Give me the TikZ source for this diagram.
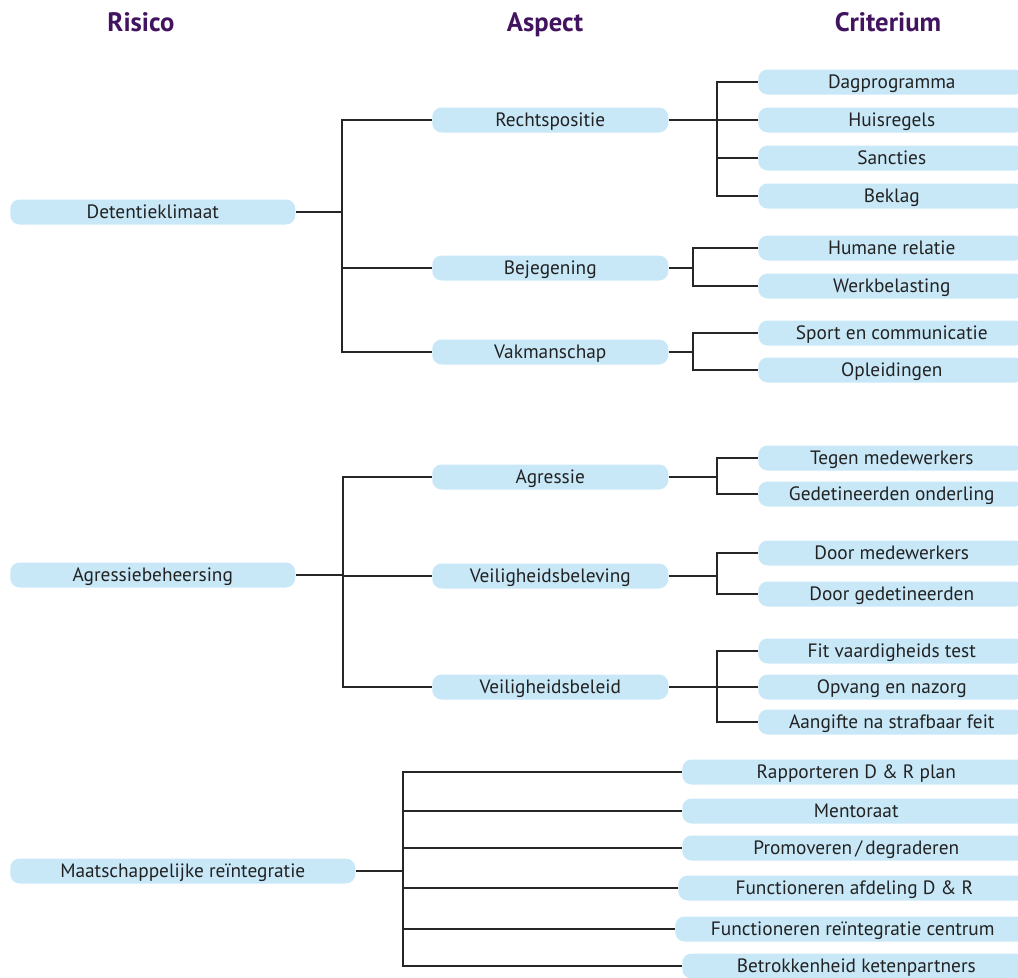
\documentclass[tikz,border=0pt]{standalone}
\usepackage{fontspec}
\setmainfont{PT Sans}
\usetikzlibrary{calc}
\definecolor{paars}{HTML}{42145F}
\definecolor{lichtblauw}{HTML}{C8E8F8}
\definecolor{tekst}{HTML}{222222}
\tikzset{
	link/.style={line width=1pt, draw=black!85},
	hdr/.style={
		font=\fontsize{20}{24}\selectfont\bfseries,
		text=paars,
		text height=14pt,
		text depth=0pt,
	},
	box/.style={
		fill=lichtblauw,
		draw=none,
		rounded corners=7pt,
		anchor=west,
		minimum height=18.75pt,
		inner sep=0pt,
		text height=10.2pt,
		text depth=0pt,
		text=tekst,
		font=\fontsize{14.5}{16}\selectfont,
	},
	risk/.style={box, minimum width=213.75pt},
	maat/.style={box, minimum width=258.75pt},
	asp/.style={box, minimum width=177pt},
	crit/.style={box, minimum width=200.25pt},
	reint/.style={box, minimum width=261pt},
}

\begin{document}
\begin{tikzpicture}[x=0.75pt,y=-0.75pt]
		\clip (0,0) rectangle (1018,978);

		\node[hdr] (hrisico) at (141,22) {Risico};
		\node[hdr] (haspect) at (545,22) {Aspect};
		\node[hdr] (hcrit) at (888,22) {Criterium};

		% Detentieklimaat
		\node[risk] (detentie) at (10,212) {Detentieklimaat};
		\node[asp] (rechts) at (432,120) {Rechtspositie};
		\node[asp] (bejeg) at (432,268) {Bejegening};
		\node[asp] (vakman) at (432,352) {Vakmanschap};
		\node[crit] (dagprog) at (758,82) {Dagprogramma};
		\node[crit] (huisreg) at (758,120) {Huisregels};
		\node[crit] (sanct) at (758,158) {Sancties};
		\node[crit] (beklag) at (758,196) {Beklag};
		\node[crit] (humaan) at (758,248) {Humane relatie};
		\node[crit] (werkbel) at (758,286) {Werkbelasting};
		\node[crit] (sport) at (758,333) {Sport en communicatie};
		\node[crit] (opleid) at (758,370) {Opleidingen};

		% Agressiebeheersing
		\node[risk] (agrbeh) at (10,575) {Agressiebeheersing};
		\node[asp] (agressie) at (432,477) {Agressie};
		\node[asp] (vbelev) at (432,576) {Veiligheidsbeleving};
		\node[asp] (vbeleid) at (432,687) {Veiligheidsbeleid};
		\node[crit] (tegenmw) at (758,458) {Tegen medewerkers};
		\node[crit] (onderl) at (758,494) {Gedetineerden onderling};
		\node[crit] (doormw) at (758,553) {Door medewerkers};
		\node[crit] (doorged) at (758,594) {Door gedetineerden};
		\node[crit] (fittest) at (758,651) {Fit vaardigheids test};
		\node[crit] (opvang) at (758,687) {Opvang en nazorg};
		\node[crit] (aangifte) at (758,722) {Aangifte na strafbaar feit};

		% Maatschappelijke reintegratie
		\node[maat] (maatsch) at (10,871) {Maatschappelijke reïntegratie};
		\node[reint] (rapport) at (682,772) {Rapporteren D \& R plan};
		\node[reint] (mentor) at (682,811) {Mentoraat};
		\node[reint] (promo) at (682,848) {Promoveren\,/\,degraderen};
		\node[reint, minimum width=264pt] (functafd) at (678,888) {Functioneren afdeling D \& R};
		\node[reint, minimum width=266.25pt] (functrc) at (675,929) {Functioneren reïntegratie centrum};
		\node[reint] (ketenp) at (682,966) {Betrokkenheid ketenpartners};

		% stammen
		\coordinate (detJ) at (342,212);
		\coordinate (agrJ) at (343,575);
		\coordinate (maatJ) at (403,871);
		\draw[link] (detentie.east) -- (detJ);
		\draw[link] (detJ) |- (rechts.west);
		\draw[link] (detJ) |- (bejeg.west);
		\draw[link] (detJ) |- (vakman.west);
		\draw[link] (agrbeh.east) -- (agrJ);
		\draw[link] (agrJ) |- (agressie.west);
		\draw[link] (agrJ) |- (vbelev.west);
		\draw[link] (agrJ) |- (vbeleid.west);
		\draw[link] (maatsch.east) -- (maatJ);
		\draw[link] (maatJ) |- (rapport.west);
		\draw[link] (maatJ) |- (mentor.west);
		\draw[link] (maatJ) |- (promo.west);
		\draw[link] (maatJ) |- (functafd.west);
		\draw[link] (maatJ) |- (functrc.west);
		\draw[link] (maatJ) |- (ketenp.west);

		% takken
		\coordinate (rechtsJ) at (717,120);
		\coordinate (bejegJ) at (693,268);
		\coordinate (vakmanJ) at (693,352);
		\coordinate (agressieJ) at (717,477);
		\coordinate (vbelevJ) at (717,576);
		\coordinate (vbeleidJ) at (717,687);
		\draw[link] (rechts.east) -- (rechtsJ);
		\draw[link] (rechtsJ) |- (dagprog.west);
		\draw[link] (rechtsJ) |- (huisreg.west);
		\draw[link] (rechtsJ) |- (sanct.west);
		\draw[link] (rechtsJ) |- (beklag.west);
		\draw[link] (bejeg.east) -- (bejegJ);
		\draw[link] (bejegJ) |- (humaan.west);
		\draw[link] (bejegJ) |- (werkbel.west);
		\draw[link] (vakman.east) -- (vakmanJ);
		\draw[link] (vakmanJ) |- (sport.west);
		\draw[link] (vakmanJ) |- (opleid.west);
		\draw[link] (agressie.east) -- (agressieJ);
		\draw[link] (agressieJ) |- (tegenmw.west);
		\draw[link] (agressieJ) |- (onderl.west);
		\draw[link] (vbelev.east) -- (vbelevJ);
		\draw[link] (vbelevJ) |- (doormw.west);
		\draw[link] (vbelevJ) |- (doorged.west);
		\draw[link] (vbeleid.east) -- (vbeleidJ);
		\draw[link] (vbeleidJ) |- (fittest.west);
		\draw[link] (vbeleidJ) |- (opvang.west);
		\draw[link] (vbeleidJ) |- (aangifte.west);

	\end{tikzpicture}
\end{document}
